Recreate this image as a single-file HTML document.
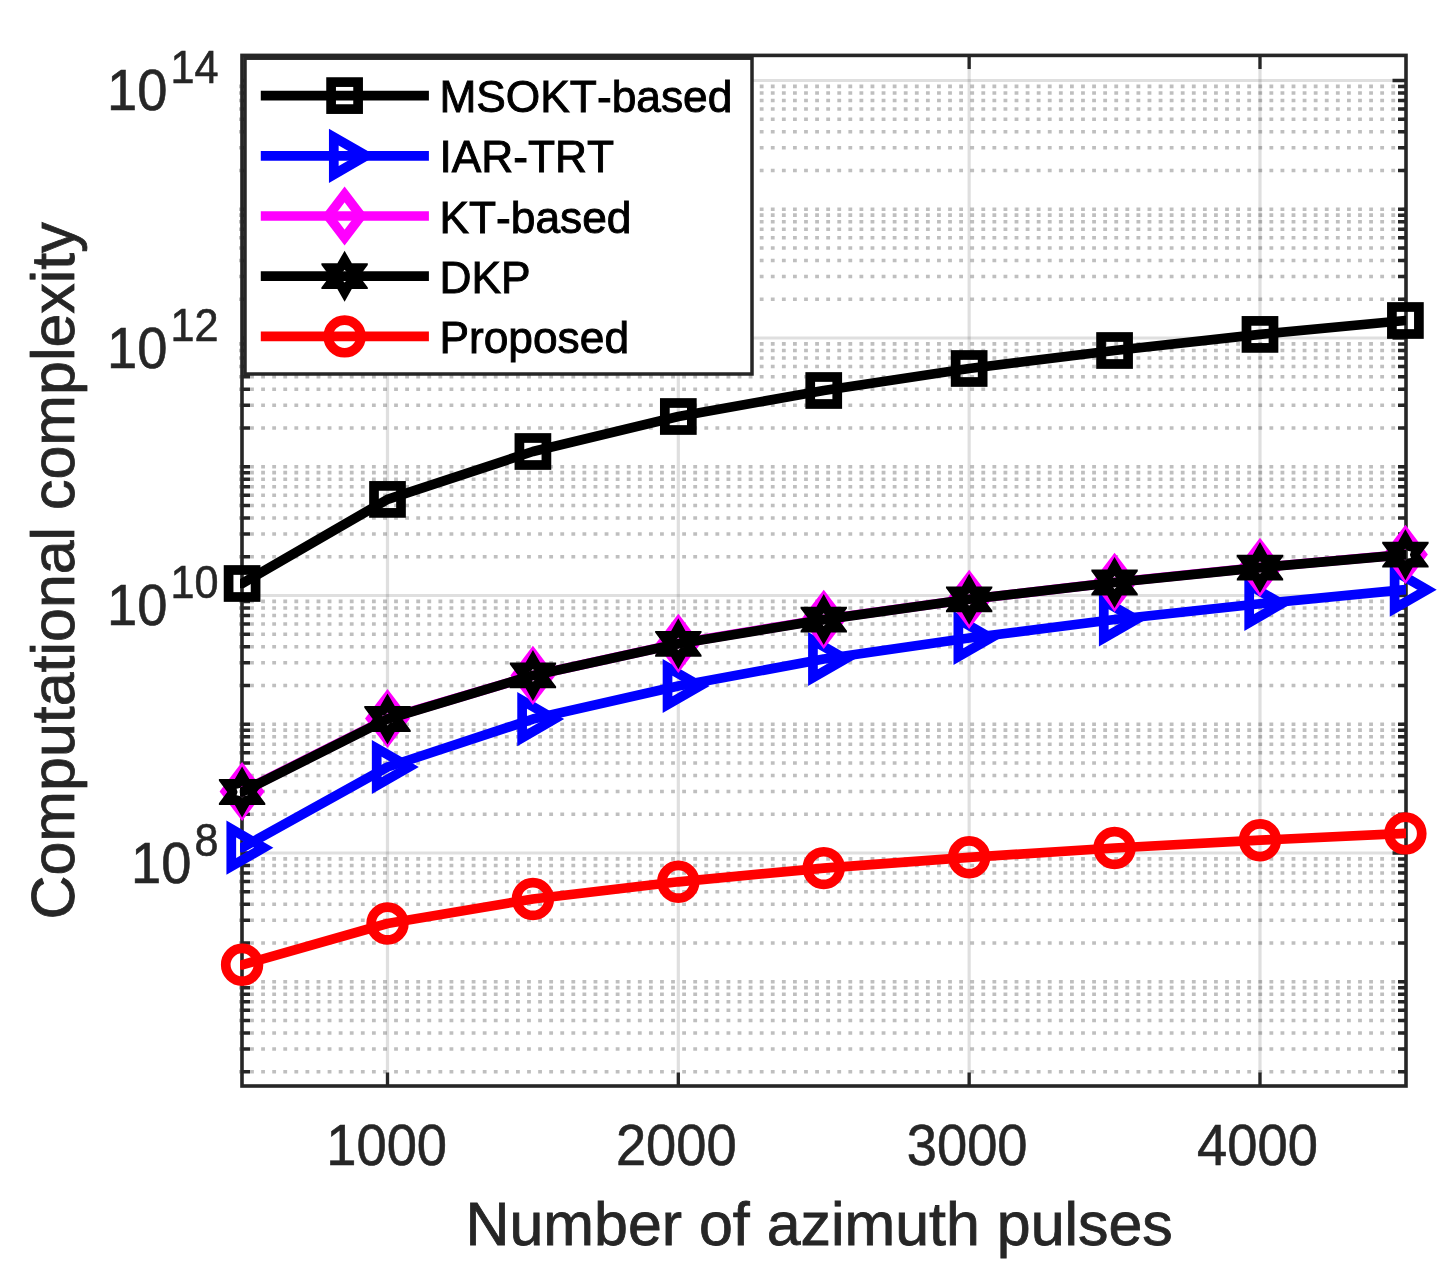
<!DOCTYPE html>
<html><head><meta charset="utf-8"><title>Computational complexity</title>
<style>
html,body{margin:0;padding:0;background:#fff;}
svg{display:block;will-change:transform;}
text{font-family:"Liberation Sans",sans-serif;font-kerning:none;}
</style></head><body>
<svg width="1452" height="1270" viewBox="0 0 1452 1270">
<rect x="0" y="0" width="1452" height="1270" fill="#ffffff"/>
<defs><clipPath id="ax"><rect x="240" y="53.4" width="1166" height="1034.6"/></clipPath></defs>
<path d="M239 1071.74H1406M239 1049.07H1406M239 1032.98H1406M239 1020.51H1406M239 1010.31H1406M239 1001.69H1406M239 994.23H1406M239 987.64H1406M239 981.75H1406M239 942.99H1406M239 920.32H1406M239 904.23H1406M239 891.76H1406M239 881.56H1406M239 872.94H1406M239 865.48H1406M239 858.89H1406M239 814.24H1406M239 791.57H1406M239 775.48H1406M239 763.01H1406M239 752.81H1406M239 744.19H1406M239 736.73H1406M239 730.14H1406M239 724.25H1406M239 685.49H1406M239 662.82H1406M239 646.73H1406M239 634.26H1406M239 624.06H1406M239 615.44H1406M239 607.98H1406M239 601.39H1406M239 556.74H1406M239 534.07H1406M239 517.98H1406M239 505.51H1406M239 495.31H1406M239 486.69H1406M239 479.23H1406M239 472.64H1406M239 466.75H1406M239 427.99H1406M239 405.32H1406M239 389.23H1406M239 376.76H1406M239 366.56H1406M239 357.94H1406M239 350.48H1406M239 343.89H1406M239 299.24H1406M239 276.57H1406M239 260.48H1406M239 248.01H1406M239 237.81H1406M239 229.19H1406M239 221.73H1406M239 215.14H1406M239 209.25H1406M239 170.49H1406M239 147.82H1406M239 131.73H1406M239 119.26H1406M239 109.06H1406M239 100.44H1406M239 92.98H1406M239 86.39H1406" stroke="#262626" stroke-opacity="0.295" stroke-width="3.6" stroke-dasharray="3.8 7.28" fill="none"/>
<path d="M242 853H1406M242 595.5H1406M242 338H1406M242 80.5H1406" stroke="#262626" stroke-opacity="0.15" stroke-width="2.8" fill="none"/>
<path d="M387.5 55.4V1086M678.33 55.4V1086M969.16 55.4V1086M1259.99 55.4V1086" stroke="#262626" stroke-opacity="0.15" stroke-width="3.2" fill="none"/>
<path d="M242 1071.74H250M1406 1071.74H1398M242 1049.07H250M1406 1049.07H1398M242 1032.98H250M1406 1032.98H1398M242 1020.51H250M1406 1020.51H1398M242 1010.31H250M1406 1010.31H1398M242 1001.69H250M1406 1001.69H1398M242 994.23H250M1406 994.23H1398M242 987.64H250M1406 987.64H1398M242 981.75H250M1406 981.75H1398M242 942.99H250M1406 942.99H1398M242 920.32H250M1406 920.32H1398M242 904.23H250M1406 904.23H1398M242 891.76H250M1406 891.76H1398M242 881.56H250M1406 881.56H1398M242 872.94H250M1406 872.94H1398M242 865.48H250M1406 865.48H1398M242 858.89H250M1406 858.89H1398M242 814.24H250M1406 814.24H1398M242 791.57H250M1406 791.57H1398M242 775.48H250M1406 775.48H1398M242 763.01H250M1406 763.01H1398M242 752.81H250M1406 752.81H1398M242 744.19H250M1406 744.19H1398M242 736.73H250M1406 736.73H1398M242 730.14H250M1406 730.14H1398M242 724.25H250M1406 724.25H1398M242 685.49H250M1406 685.49H1398M242 662.82H250M1406 662.82H1398M242 646.73H250M1406 646.73H1398M242 634.26H250M1406 634.26H1398M242 624.06H250M1406 624.06H1398M242 615.44H250M1406 615.44H1398M242 607.98H250M1406 607.98H1398M242 601.39H250M1406 601.39H1398M242 556.74H250M1406 556.74H1398M242 534.07H250M1406 534.07H1398M242 517.98H250M1406 517.98H1398M242 505.51H250M1406 505.51H1398M242 495.31H250M1406 495.31H1398M242 486.69H250M1406 486.69H1398M242 479.23H250M1406 479.23H1398M242 472.64H250M1406 472.64H1398M242 466.75H250M1406 466.75H1398M242 427.99H250M1406 427.99H1398M242 405.32H250M1406 405.32H1398M242 389.23H250M1406 389.23H1398M242 376.76H250M1406 376.76H1398M242 366.56H250M1406 366.56H1398M242 357.94H250M1406 357.94H1398M242 350.48H250M1406 350.48H1398M242 343.89H250M1406 343.89H1398M242 299.24H250M1406 299.24H1398M242 276.57H250M1406 276.57H1398M242 260.48H250M1406 260.48H1398M242 248.01H250M1406 248.01H1398M242 237.81H250M1406 237.81H1398M242 229.19H250M1406 229.19H1398M242 221.73H250M1406 221.73H1398M242 215.14H250M1406 215.14H1398M242 209.25H250M1406 209.25H1398M242 170.49H250M1406 170.49H1398M242 147.82H250M1406 147.82H1398M242 131.73H250M1406 131.73H1398M242 119.26H250M1406 119.26H1398M242 109.06H250M1406 109.06H1398M242 100.44H250M1406 100.44H1398M242 92.98H250M1406 92.98H1398M242 86.39H250M1406 86.39H1398M242 853H255.5M1406 853H1392.5M242 595.5H255.5M1406 595.5H1392.5M242 338H255.5M1406 338H1392.5M242 80.5H255.5M1406 80.5H1392.5" stroke="#262626" stroke-width="3.5" fill="none"/>
<path d="M387.5 1086V1072.5M387.5 55.4V68.9M678.33 1086V1072.5M678.33 55.4V68.9M969.16 1086V1072.5M969.16 55.4V68.9M1259.99 1086V1072.5M1259.99 55.4V68.9" stroke="#262626" stroke-width="3.3" fill="none"/>
<rect x="242" y="55.4" width="1164" height="1030.6" fill="none" stroke="#262626" stroke-width="3.6"/>
<text transform="translate(326.3 1165) scale(0.933 1)" font-size="58.2" fill="#262626" stroke="#262626" stroke-width="0.6">1000</text><text transform="translate(615.93 1165) scale(0.933 1)" font-size="58.2" fill="#262626" stroke="#262626" stroke-width="0.6">2000</text><text transform="translate(906.76 1165) scale(0.933 1)" font-size="58.2" fill="#262626" stroke="#262626" stroke-width="0.6">3000</text><text transform="translate(1197.09 1165) scale(0.933 1)" font-size="58.2" fill="#262626" stroke="#262626" stroke-width="0.6">4000</text>
<text transform="translate(130.98 882.7) scale(0.933 1)" font-size="58.2" fill="#262626" stroke="#262626" stroke-width="0.6">10</text><text transform="translate(194.48 855.5) scale(0.933 1)" font-size="46.3" fill="#262626" stroke="#262626" stroke-width="0.6">8</text><text transform="translate(106.95 625.2) scale(0.933 1)" font-size="58.2" fill="#262626" stroke="#262626" stroke-width="0.6">10</text><text transform="translate(170.45 598) scale(0.933 1)" font-size="46.3" fill="#262626" stroke="#262626" stroke-width="0.6">10</text><text transform="translate(106.95 367.7) scale(0.933 1)" font-size="58.2" fill="#262626" stroke="#262626" stroke-width="0.6">10</text><text transform="translate(170.45 340.5) scale(0.933 1)" font-size="46.3" fill="#262626" stroke="#262626" stroke-width="0.6">12</text><text transform="translate(106.95 110.2) scale(0.933 1)" font-size="58.2" fill="#262626" stroke="#262626" stroke-width="0.6">10</text><text transform="translate(170.45 83) scale(0.933 1)" font-size="46.3" fill="#262626" stroke="#262626" stroke-width="0.6">14</text>
<text x="465.5" y="1245.1" font-size="60.9" fill="#262626" stroke="#262626" stroke-width="0.8">Number of azimuth pulses</text>
<text transform="translate(74.3 919.5) rotate(-90)" font-size="60.9" fill="#262626" stroke="#262626" stroke-width="0.8">Computational complexity</text>
<polyline points="242.09,583.5 387.5,499.4 532.91,451.5 678.33,416.5 823.74,390.5 969.16,368.5 1114.57,350.5 1259.99,334.4 1405.4,320.5" fill="none" stroke="#000000" stroke-width="9.7" stroke-linejoin="round" stroke-linecap="round" clip-path="url(#ax)"/>
<rect x="228.59" y="570" width="27" height="27" fill="none" stroke="#000000" stroke-width="9.7" stroke-linejoin="miter"/>
<rect x="374" y="485.9" width="27" height="27" fill="none" stroke="#000000" stroke-width="9.7" stroke-linejoin="miter"/>
<rect x="519.41" y="438" width="27" height="27" fill="none" stroke="#000000" stroke-width="9.7" stroke-linejoin="miter"/>
<rect x="664.83" y="403" width="27" height="27" fill="none" stroke="#000000" stroke-width="9.7" stroke-linejoin="miter"/>
<rect x="810.24" y="377" width="27" height="27" fill="none" stroke="#000000" stroke-width="9.7" stroke-linejoin="miter"/>
<rect x="955.66" y="355" width="27" height="27" fill="none" stroke="#000000" stroke-width="9.7" stroke-linejoin="miter"/>
<rect x="1101.07" y="337" width="27" height="27" fill="none" stroke="#000000" stroke-width="9.7" stroke-linejoin="miter"/>
<rect x="1246.49" y="320.9" width="27" height="27" fill="none" stroke="#000000" stroke-width="9.7" stroke-linejoin="miter"/>
<rect x="1391.9" y="307" width="27" height="27" fill="none" stroke="#000000" stroke-width="9.7" stroke-linejoin="miter"/>
<polyline points="242.09,847.7 387.5,767 532.91,719.1 678.33,686 823.74,659 969.16,638 1114.57,619.5 1259.99,603.8 1405.4,589.7" fill="none" stroke="#0000ff" stroke-width="9.7" stroke-linejoin="round" stroke-linecap="round" clip-path="url(#ax)"/>
<polygon points="263.69,847.7 231.28,828.99 231.28,866.41" fill="none" stroke="#0000ff" stroke-width="9.7" stroke-linejoin="miter" stroke-miterlimit="10"/>
<polygon points="409.1,767 376.7,748.29 376.7,785.71" fill="none" stroke="#0000ff" stroke-width="9.7" stroke-linejoin="miter" stroke-miterlimit="10"/>
<polygon points="554.51,719.1 522.12,700.39 522.12,737.81" fill="none" stroke="#0000ff" stroke-width="9.7" stroke-linejoin="miter" stroke-miterlimit="10"/>
<polygon points="699.93,686 667.53,667.29 667.53,704.71" fill="none" stroke="#0000ff" stroke-width="9.7" stroke-linejoin="miter" stroke-miterlimit="10"/>
<polygon points="845.34,659 812.94,640.29 812.94,677.71" fill="none" stroke="#0000ff" stroke-width="9.7" stroke-linejoin="miter" stroke-miterlimit="10"/>
<polygon points="990.76,638 958.36,619.29 958.36,656.71" fill="none" stroke="#0000ff" stroke-width="9.7" stroke-linejoin="miter" stroke-miterlimit="10"/>
<polygon points="1136.17,619.5 1103.77,600.79 1103.77,638.21" fill="none" stroke="#0000ff" stroke-width="9.7" stroke-linejoin="miter" stroke-miterlimit="10"/>
<polygon points="1281.59,603.8 1249.19,585.09 1249.19,622.51" fill="none" stroke="#0000ff" stroke-width="9.7" stroke-linejoin="miter" stroke-miterlimit="10"/>
<polygon points="1427,589.7 1394.61,570.99 1394.61,608.41" fill="none" stroke="#0000ff" stroke-width="9.7" stroke-linejoin="miter" stroke-miterlimit="10"/>
<polyline points="242.09,791.5 387.5,718.5 532.91,675.4 678.33,643.4 823.74,619.3 969.16,599.3 1114.57,582.3 1259.99,567.4 1405.4,554.4" fill="none" stroke="#ff00ff" stroke-width="9.7" stroke-linejoin="round" stroke-linecap="round" clip-path="url(#ax)"/>
<polygon points="242.09,769.9 258.49,791.5 242.09,813.1 225.69,791.5" fill="none" stroke="#ff00ff" stroke-width="9.7" stroke-linejoin="miter" stroke-miterlimit="10"/>
<polygon points="387.5,696.9 403.9,718.5 387.5,740.1 371.1,718.5" fill="none" stroke="#ff00ff" stroke-width="9.7" stroke-linejoin="miter" stroke-miterlimit="10"/>
<polygon points="532.91,653.8 549.31,675.4 532.91,697 516.51,675.4" fill="none" stroke="#ff00ff" stroke-width="9.7" stroke-linejoin="miter" stroke-miterlimit="10"/>
<polygon points="678.33,621.8 694.73,643.4 678.33,665 661.93,643.4" fill="none" stroke="#ff00ff" stroke-width="9.7" stroke-linejoin="miter" stroke-miterlimit="10"/>
<polygon points="823.74,597.7 840.14,619.3 823.74,640.9 807.34,619.3" fill="none" stroke="#ff00ff" stroke-width="9.7" stroke-linejoin="miter" stroke-miterlimit="10"/>
<polygon points="969.16,577.7 985.56,599.3 969.16,620.9 952.76,599.3" fill="none" stroke="#ff00ff" stroke-width="9.7" stroke-linejoin="miter" stroke-miterlimit="10"/>
<polygon points="1114.57,560.7 1130.97,582.3 1114.57,603.9 1098.17,582.3" fill="none" stroke="#ff00ff" stroke-width="9.7" stroke-linejoin="miter" stroke-miterlimit="10"/>
<polygon points="1259.99,545.8 1276.39,567.4 1259.99,589 1243.59,567.4" fill="none" stroke="#ff00ff" stroke-width="9.7" stroke-linejoin="miter" stroke-miterlimit="10"/>
<polygon points="1405.4,532.8 1421.81,554.4 1405.4,576 1389,554.4" fill="none" stroke="#ff00ff" stroke-width="9.7" stroke-linejoin="miter" stroke-miterlimit="10"/>
<polyline points="242.09,792 387.5,719 532.91,675.4 678.33,643.8 823.74,619.6 969.16,599.3 1114.57,582.5 1259.99,567.6 1405.4,554.7" fill="none" stroke="#000000" stroke-width="9.7" stroke-linejoin="round" stroke-linecap="round" clip-path="url(#ax)"/>
<path d="M242.09 766.5L249.28 779.1L265.29 779.1L265.29 780.8L256.88 792L265.29 803.2L265.29 804.9L249.28 804.9L242.09 817.5L234.89 804.9L218.89 804.9L218.89 803.2L227.28 792L218.89 780.8L218.89 779.1L234.89 779.1ZM242.09 785.6L244.34 788.1L247.63 788.8L246.59 792L247.63 795.2L244.34 795.9L242.09 798.4L239.84 795.9L236.54 795.2L237.59 792L236.54 788.8L239.84 788.1Z" fill="#000000" fill-rule="evenodd"/>
<path d="M387.5 693.5L394.7 706.1L410.7 706.1L410.7 707.8L402.3 719L410.7 730.2L410.7 731.9L394.7 731.9L387.5 744.5L380.3 731.9L364.3 731.9L364.3 730.2L372.7 719L364.3 707.8L364.3 706.1L380.3 706.1ZM387.5 712.6L389.75 715.1L393.04 715.8L392 719L393.04 722.2L389.75 722.9L387.5 725.4L385.25 722.9L381.96 722.2L383 719L381.96 715.8L385.25 715.1Z" fill="#000000" fill-rule="evenodd"/>
<path d="M532.91 649.9L540.12 662.5L556.12 662.5L556.12 664.2L547.71 675.4L556.12 686.6L556.12 688.3L540.12 688.3L532.91 700.9L525.71 688.3L509.71 688.3L509.71 686.6L518.12 675.4L509.71 664.2L509.71 662.5L525.71 662.5ZM532.91 669L535.16 671.5L538.46 672.2L537.41 675.4L538.46 678.6L535.16 679.3L532.91 681.8L530.66 679.3L527.37 678.6L528.41 675.4L527.37 672.2L530.66 671.5Z" fill="#000000" fill-rule="evenodd"/>
<path d="M678.33 618.3L685.53 630.9L701.53 630.9L701.53 632.6L693.13 643.8L701.53 655L701.53 656.7L685.53 656.7L678.33 669.3L671.13 656.7L655.13 656.7L655.13 655L663.53 643.8L655.13 632.6L655.13 630.9L671.13 630.9ZM678.33 637.4L680.58 639.9L683.87 640.6L682.83 643.8L683.87 647L680.58 647.7L678.33 650.2L676.08 647.7L672.79 647L673.83 643.8L672.79 640.6L676.08 639.9Z" fill="#000000" fill-rule="evenodd"/>
<path d="M823.74 594.1L830.94 606.7L846.94 606.7L846.94 608.4L838.54 619.6L846.94 630.8L846.94 632.5L830.94 632.5L823.74 645.1L816.54 632.5L800.54 632.5L800.54 630.8L808.94 619.6L800.54 608.4L800.54 606.7L816.54 606.7ZM823.74 613.2L825.99 615.7L829.29 616.4L828.24 619.6L829.29 622.8L825.99 623.5L823.74 626L821.49 623.5L818.2 622.8L819.24 619.6L818.2 616.4L821.49 615.7Z" fill="#000000" fill-rule="evenodd"/>
<path d="M969.16 573.8L976.36 586.4L992.36 586.4L992.36 588.1L983.96 599.3L992.36 610.5L992.36 612.2L976.36 612.2L969.16 624.8L961.96 612.2L945.96 612.2L945.96 610.5L954.36 599.3L945.96 588.1L945.96 586.4L961.96 586.4ZM969.16 592.9L971.41 595.4L974.7 596.1L973.66 599.3L974.7 602.5L971.41 603.2L969.16 605.7L966.91 603.2L963.62 602.5L964.66 599.3L963.62 596.1L966.91 595.4Z" fill="#000000" fill-rule="evenodd"/>
<path d="M1114.57 557L1121.77 569.6L1137.77 569.6L1137.77 571.3L1129.37 582.5L1137.77 593.7L1137.77 595.4L1121.77 595.4L1114.57 608L1107.37 595.4L1091.37 595.4L1091.37 593.7L1099.77 582.5L1091.37 571.3L1091.37 569.6L1107.37 569.6ZM1114.57 576.1L1116.82 578.6L1120.12 579.3L1119.07 582.5L1120.12 585.7L1116.82 586.4L1114.57 588.9L1112.32 586.4L1109.03 585.7L1110.07 582.5L1109.03 579.3L1112.32 578.6Z" fill="#000000" fill-rule="evenodd"/>
<path d="M1259.99 542.1L1267.19 554.7L1283.19 554.7L1283.19 556.4L1274.79 567.6L1283.19 578.8L1283.19 580.5L1267.19 580.5L1259.99 593.1L1252.79 580.5L1236.79 580.5L1236.79 578.8L1245.19 567.6L1236.79 556.4L1236.79 554.7L1252.79 554.7ZM1259.99 561.2L1262.24 563.7L1265.53 564.4L1264.49 567.6L1265.53 570.8L1262.24 571.5L1259.99 574L1257.74 571.5L1254.45 570.8L1255.49 567.6L1254.45 564.4L1257.74 563.7Z" fill="#000000" fill-rule="evenodd"/>
<path d="M1405.4 529.2L1412.61 541.8L1428.61 541.8L1428.61 543.5L1420.2 554.7L1428.61 565.9L1428.61 567.6L1412.61 567.6L1405.4 580.2L1398.2 567.6L1382.2 567.6L1382.2 565.9L1390.61 554.7L1382.2 543.5L1382.2 541.8L1398.2 541.8ZM1405.4 548.3L1407.65 550.8L1410.95 551.5L1409.9 554.7L1410.95 557.9L1407.65 558.6L1405.4 561.1L1403.15 558.6L1399.86 557.9L1400.9 554.7L1399.86 551.5L1403.15 550.8Z" fill="#000000" fill-rule="evenodd"/>
<polyline points="242.09,964.8 387.5,923.5 532.91,899 678.33,881.8 823.74,868.1 969.16,857.3 1114.57,848 1259.99,840.2 1405.4,833.4" fill="none" stroke="#ff0000" stroke-width="9.7" stroke-linejoin="round" stroke-linecap="round" clip-path="url(#ax)"/>
<circle cx="242.09" cy="964.8" r="16.35" fill="none" stroke="#ff0000" stroke-width="9.7"/>
<circle cx="387.5" cy="923.5" r="16.35" fill="none" stroke="#ff0000" stroke-width="9.7"/>
<circle cx="532.91" cy="899" r="16.35" fill="none" stroke="#ff0000" stroke-width="9.7"/>
<circle cx="678.33" cy="881.8" r="16.35" fill="none" stroke="#ff0000" stroke-width="9.7"/>
<circle cx="823.74" cy="868.1" r="16.35" fill="none" stroke="#ff0000" stroke-width="9.7"/>
<circle cx="969.16" cy="857.3" r="16.35" fill="none" stroke="#ff0000" stroke-width="9.7"/>
<circle cx="1114.57" cy="848" r="16.35" fill="none" stroke="#ff0000" stroke-width="9.7"/>
<circle cx="1259.99" cy="840.2" r="16.35" fill="none" stroke="#ff0000" stroke-width="9.7"/>
<circle cx="1405.4" cy="833.4" r="16.35" fill="none" stroke="#ff0000" stroke-width="9.7"/>
<rect x="245" y="58.2" width="507" height="315.8" fill="#ffffff" stroke="#262626" stroke-width="3.5"/>
<path d="M260.8 95.6H428.9" stroke="#000000" stroke-width="9.7"/>
<rect x="331.1" y="82.1" width="27" height="27" fill="none" stroke="#000000" stroke-width="9.7" stroke-linejoin="miter"/>
<text x="439.4" y="112.2" font-size="44.3" fill="#000" stroke="#000" stroke-width="0.9">MSOKT-based</text>
<path d="M260.8 155.8H428.9" stroke="#0000ff" stroke-width="9.7"/>
<polygon points="366.2,155.8 333.8,137.09 333.8,174.51" fill="none" stroke="#0000ff" stroke-width="9.7" stroke-linejoin="miter" stroke-miterlimit="10"/>
<text x="439.4" y="172.4" font-size="44.3" fill="#000" stroke="#000" stroke-width="0.9">IAR-TRT</text>
<path d="M260.8 216H428.9" stroke="#ff00ff" stroke-width="9.7"/>
<polygon points="344.6,194.4 361,216 344.6,237.6 328.2,216" fill="none" stroke="#ff00ff" stroke-width="9.7" stroke-linejoin="miter" stroke-miterlimit="10"/>
<text x="439.4" y="232.6" font-size="44.3" fill="#000" stroke="#000" stroke-width="0.9">KT-based</text>
<path d="M260.8 276.2H428.9" stroke="#000000" stroke-width="9.7"/>
<path d="M344.6 250.7L351.8 263.3L367.8 263.3L367.8 265L359.4 276.2L367.8 287.4L367.8 289.1L351.8 289.1L344.6 301.7L337.4 289.1L321.4 289.1L321.4 287.4L329.8 276.2L321.4 265L321.4 263.3L337.4 263.3ZM344.6 269.8L346.85 272.3L350.14 273L349.1 276.2L350.14 279.4L346.85 280.1L344.6 282.6L342.35 280.1L339.06 279.4L340.1 276.2L339.06 273L342.35 272.3Z" fill="#000000" fill-rule="evenodd"/>
<text x="439.4" y="292.8" font-size="44.3" fill="#000" stroke="#000" stroke-width="0.9">DKP</text>
<path d="M260.8 336.4H428.9" stroke="#ff0000" stroke-width="9.7"/>
<circle cx="344.6" cy="336.4" r="16.35" fill="none" stroke="#ff0000" stroke-width="9.7"/>
<text x="439.4" y="353" font-size="44.3" fill="#000" stroke="#000" stroke-width="0.9">Proposed</text>
</svg>
</body></html>
